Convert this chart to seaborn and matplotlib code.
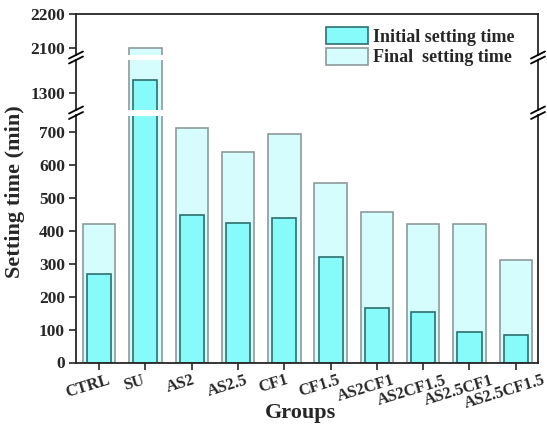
import matplotlib
matplotlib.use("Agg")
import matplotlib.pyplot as plt
import matplotlib.transforms as mtransforms
from matplotlib.lines import Line2D
import seaborn as sns

# --- data ---
groups = ["CTRL", "SU", "AS2", "AS2.5", "CF1", "CF1.5",
          "AS2CF1", "AS2CF1.5", "AS2.5CF1", "AS2.5CF1.5"]
initial_time = [270, 1340, 447, 424, 440, 320, 165, 152, 92, 85]
final_time = [420, 2100, 713, 640, 695, 545, 458, 420, 420, 310]

init_color = "#87FAFA"
init_edge = "#2F6F6F"
final_color = "#D5FDFD"
final_edge = "#8E9A9A"

sns.set_style("ticks")
plt.rcParams["font.family"] = ["Liberation Serif", "DejaVu Serif"]
plt.rcParams["font.weight"] = "bold"
plt.rcParams["axes.linewidth"] = 1.3

W, H = 547, 430
fig = plt.figure(figsize=(W / 100, H / 100), dpi=100)


def px_axes(top, bottom, left=76, right=538):
    return fig.add_axes([left / W, 1 - bottom / H, (right - left) / W, (bottom - top) / H])


ax_top = px_axes(14, 55)
ax_mid = px_axes(60, 110)
ax_bot = px_axes(115.5, 362.5)
axes = [ax_top, ax_mid, ax_bot]
limits = [(2080, 2200), (1250, 1400), (0, 750)]

for ax, lim in zip(axes, limits):
    sns.barplot(x=groups, y=final_time, ax=ax, color=final_color, width=0.7,
                edgecolor=final_edge, linewidth=1.2, saturation=1,
                label="Final  setting time")
    sns.barplot(x=groups, y=initial_time, ax=ax, color=init_color, width=0.52,
                edgecolor=init_edge, linewidth=1.2, saturation=1,
                label="Initial setting time")
    ax.set_ylim(*lim)
    ax.set_xlim(-0.5, 9.48)
    ax.set_ylabel("")
    ax.set_xlabel("")
    ax.tick_params(axis="y", direction="out", length=5, width=1.2, labelsize=12.5, pad=3)
    ax.tick_params(right=False, labelright=False)
    ax.spines["right"].set_visible(True)
    ax.spines["top"].set_visible(True)
    if ax.get_legend() is not None:
        ax.get_legend().remove()

ax_bot.set_yticks(range(0, 701, 100))
ax_mid.set_yticks([1300])
ax_top.set_yticks([2100, 2200])

ax_top.spines["bottom"].set_visible(False)
ax_mid.spines["bottom"].set_visible(False)
ax_mid.spines["top"].set_visible(False)
ax_bot.spines["top"].set_visible(False)
for ax in (ax_top, ax_mid):
    ax.tick_params(axis="x", bottom=False, labelbottom=False)

ax_bot.tick_params(axis="x", direction="out", length=5, width=1.2, labelsize=11.8, pad=2)
shift = mtransforms.ScaledTranslation(-0.11, 0, fig.dpi_scale_trans)
for lbl in ax_bot.get_xticklabels():
    lbl.set_rotation(17)
    lbl.set_ha("center")
    lbl.set_fontweight("bold")
    lbl.set_transform(lbl.get_transform() + shift)
for ax in axes:
    for lbl in ax.get_yticklabels():
        lbl.set_fontweight("bold")

fig.text(300 / W, 1 - 413 / H, "Groups", fontsize=16, fontweight="bold",
         ha="center", va="center")
fig.text(15 / W, 1 - 192 / H, "Setting time (min)", fontsize=16, fontweight="bold",
         ha="center", va="center", rotation=90)


# break marks on both spines
def slash(x, y):
    fig.add_artist(Line2D([(x - 7) / W, (x + 7) / W], [1 - (y + 3.5) / H, 1 - (y - 3.5) / H],
                          color="black", lw=1.3))


for xs in (76, 538):
    for ys in (55, 60, 110, 115.5):
        slash(xs, ys)

handles, labels = ax_bot.get_legend_handles_labels()
fig.legend(handles[::-1], labels[::-1], loc="upper left",
           bbox_to_anchor=(326 / W, 1 - 27 / H), frameon=False,
           prop={"size": 13, "weight": "bold"}, handlelength=2.3,
           handleheight=1.1, handletextpad=0.3, labelspacing=0.1,
           borderpad=0, borderaxespad=0)

fig.savefig("out.png", dpi=100)
